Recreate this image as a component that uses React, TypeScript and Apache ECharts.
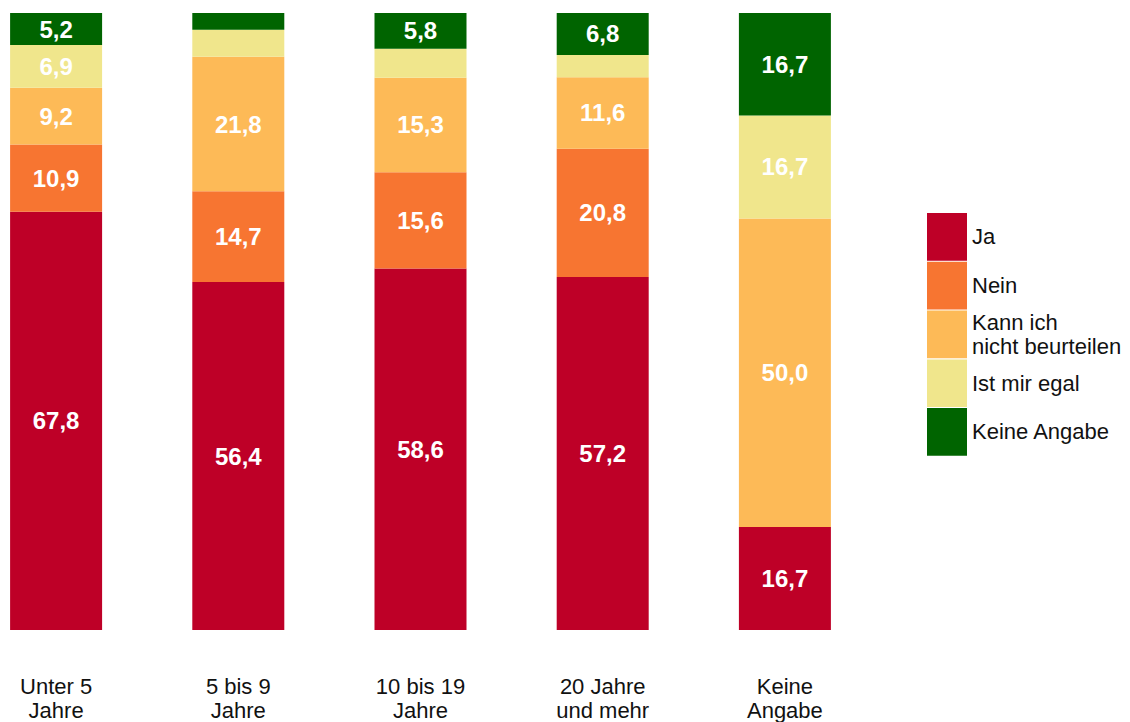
import React, { useEffect, useRef } from "react";
import * as echarts from "echarts";

const categories = ["Unter 5\nJahre", "5 bis 9\nJahre", "10 bis 19\nJahre", "20 Jahre\nund mehr", "Keine\nAngabe"];
const seriesNames = ["Ja", "Nein", "Kann ich\nnicht beurteilen", "Ist mir egal", "Keine Angabe"];
const ja = [67.8, 56.4, 58.6, 57.2, 16.7];
const nein = [10.9, 14.7, 15.6, 20.8, 0];
const kann = [9.2, 21.8, 15.3, 11.6, 50.0];
const egal = [6.9, 4.4, 4.7, 3.6, 16.7];
const keine = [5.2, 2.7, 5.8, 6.8, 16.7];
const colors = ["#BE0027", "#F77531", "#FDBA57", "#F0E68C", "#006400"];

const FONT = "'Liberation Sans', Arial, Helvetica, sans-serif";
const SHIFT = 35;

export default function App() {
  const ref = useRef<HTMLDivElement>(null);
  useEffect(() => {
    if (!ref.current) return;
    const chart = echarts.init(ref.current, null, { renderer: "svg" });
    const data = [ja, nein, kann, egal, keine];
    chart.setOption({
      animation: false,
      textStyle: { fontFamily: FONT },
      grid: { left: 0, width: 911, top: 13, bottom: 92, containLabel: false },
      legend: {
        orient: "vertical",
        left: 927 + SHIFT,
        top: 213,
        padding: 0,
        itemWidth: 40,
        itemHeight: 47.7,
        itemGap: 1,
        icon: "rect",
        selectedMode: false,
        textStyle: { fontSize: 22, color: "#111", fontFamily: FONT, lineHeight: 24 },
        data: seriesNames,
      },
      xAxis: {
        type: "category",
        data: categories,
        axisLine: { show: false },
        axisTick: { show: false },
        axisLabel: { fontSize: 22, color: "#111", lineHeight: 24, margin: 44, fontFamily: FONT, interval: 0 },
      },
      yAxis: { type: "value", min: 0, max: 100, show: false, splitLine: { show: false } },
      series: seriesNames.map((name, i) => ({
        name,
        type: "bar",
        stack: "total",
        barWidth: 92,
        data: data[i],
        itemStyle: { color: colors[i] },
        label: {
          show: true,
          position: "inside",
          color: "#fff",
          fontWeight: "bold",
          fontSize: 24,
          fontFamily: FONT,
          formatter: (p: any) => (p.value >= 5 ? p.value.toFixed(1).replace(".", ",") : ""),
        },
      })),
    });
    return () => chart.dispose();
  }, []);
  return (
    <div
      ref={ref}
      style={{ position: "absolute", left: -SHIFT, top: 0, width: 1130 + SHIFT, height: 722 }}
    />
  );
}
